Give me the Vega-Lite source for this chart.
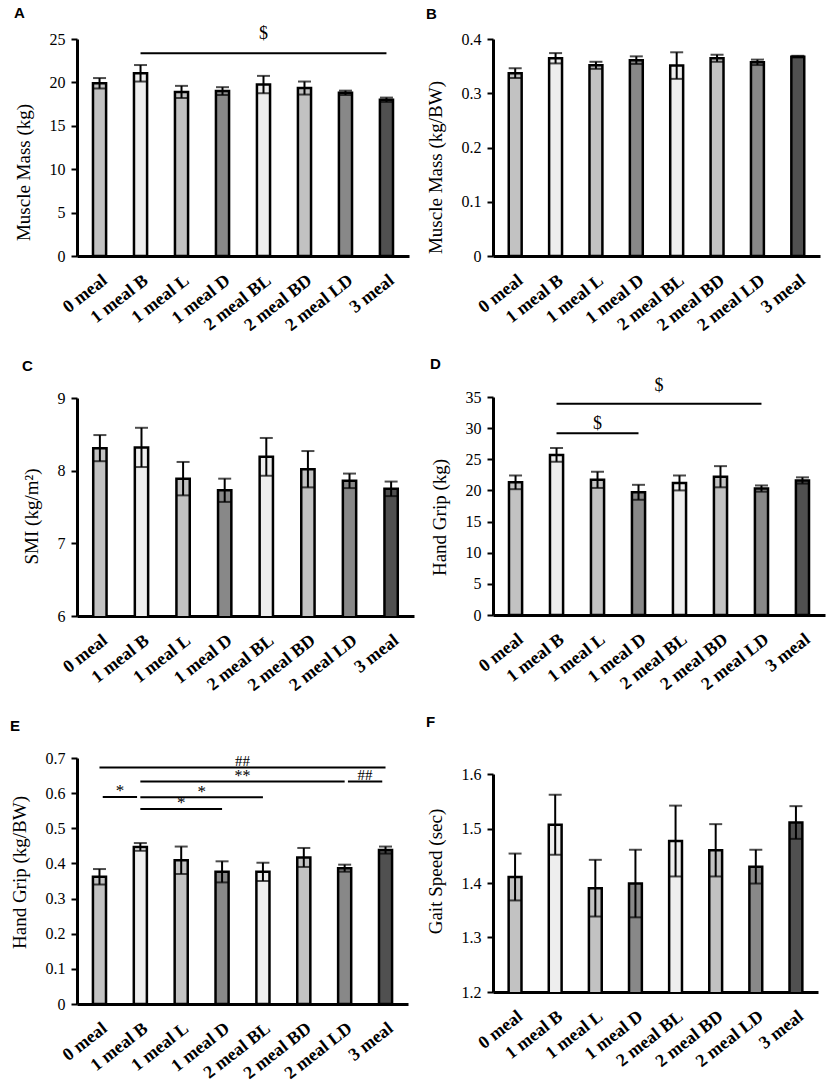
{
  "$schema": "https://vega.github.io/schema/vega-lite/v6.json",
  "background": "white",
  "padding": {"top": 6, "left": 10, "right": 4, "bottom": 4},
  "config": {
    "view": {"stroke": null},
    "font": "Liberation Serif",
    "axis": {
      "domainColor": "black", "domainWidth": 3, "tickColor": "black", "tickWidth": 2, "tickSize": 6,
      "labelColor": "black", "labelFont": "Liberation Serif", "labelFontSize": 16,
      "titleFont": "Liberation Serif", "titleFontSize": 19, "titleFontWeight": "normal", "titleColor": "black",
      "grid": false
    },
    "axisX": {"ticks": false, "labelAngle": -38, "labelFontWeight": "bold", "labelFontSize": 18, "labelAlign": "right", "labelBaseline": "top", "labelPadding": 15, "title": null},
    "axisY": {"labelPadding": 6, "titlePadding": 16},
    "title": {"font": "Liberation Sans", "fontSize": 15, "fontWeight": "bold", "anchor": "start", "frame": "bounds", "color": "black", "offset": 4},
    "concat": {"spacing": 12}
  },
  "datasets": {
    "a": [
      {"meal": "0 meal", "value": 19.9, "err": 0.6},
      {"meal": "1 meal B", "value": 21.05, "err": 0.95},
      {"meal": "1 meal L", "value": 18.9, "err": 0.7},
      {"meal": "1 meal D", "value": 19.0, "err": 0.45},
      {"meal": "2 meal BL", "value": 19.75, "err": 1.0},
      {"meal": "2 meal BD", "value": 19.35, "err": 0.75},
      {"meal": "2 meal LD", "value": 18.8, "err": 0.25},
      {"meal": "3 meal", "value": 18.0, "err": 0.25}
    ],
    "b": [
      {"meal": "0 meal", "value": 0.337, "err": 0.009},
      {"meal": "1 meal B", "value": 0.3645, "err": 0.0095},
      {"meal": "1 meal L", "value": 0.3515, "err": 0.0065},
      {"meal": "1 meal D", "value": 0.361, "err": 0.007},
      {"meal": "2 meal BL", "value": 0.351, "err": 0.0245},
      {"meal": "2 meal BD", "value": 0.3645, "err": 0.0065},
      {"meal": "2 meal LD", "value": 0.357, "err": 0.005},
      {"meal": "3 meal", "value": 0.3675, "err": 0.0015}
    ],
    "c": [
      {"meal": "0 meal", "value": 8.31, "err": 0.18},
      {"meal": "1 meal B", "value": 8.32, "err": 0.27},
      {"meal": "1 meal L", "value": 7.89, "err": 0.23},
      {"meal": "1 meal D", "value": 7.73, "err": 0.16},
      {"meal": "2 meal BL", "value": 8.19, "err": 0.26},
      {"meal": "2 meal BD", "value": 8.02, "err": 0.25},
      {"meal": "2 meal LD", "value": 7.86, "err": 0.1},
      {"meal": "3 meal", "value": 7.75, "err": 0.1}
    ],
    "d": [
      {"meal": "0 meal", "value": 21.3, "err": 1.1},
      {"meal": "1 meal B", "value": 25.7, "err": 1.1},
      {"meal": "1 meal L", "value": 21.7, "err": 1.3},
      {"meal": "1 meal D", "value": 19.7, "err": 1.2},
      {"meal": "2 meal BL", "value": 21.2, "err": 1.2},
      {"meal": "2 meal BD", "value": 22.2, "err": 1.7},
      {"meal": "2 meal LD", "value": 20.3, "err": 0.5},
      {"meal": "3 meal", "value": 21.6, "err": 0.5}
    ],
    "e": [
      {"meal": "0 meal", "value": 0.362, "err": 0.022},
      {"meal": "1 meal B", "value": 0.447, "err": 0.011},
      {"meal": "1 meal L", "value": 0.409, "err": 0.039},
      {"meal": "1 meal D", "value": 0.376, "err": 0.03},
      {"meal": "2 meal BL", "value": 0.376, "err": 0.026},
      {"meal": "2 meal BD", "value": 0.417, "err": 0.027},
      {"meal": "2 meal LD", "value": 0.3865, "err": 0.01},
      {"meal": "3 meal", "value": 0.438, "err": 0.01}
    ],
    "f": [
      {"meal": "0 meal", "value": 1.411, "err": 0.043},
      {"meal": "1 meal B", "value": 1.507, "err": 0.055},
      {"meal": "1 meal L", "value": 1.3905, "err": 0.052},
      {"meal": "1 meal D", "value": 1.399, "err": 0.062},
      {"meal": "2 meal BL", "value": 1.477, "err": 0.065},
      {"meal": "2 meal BD", "value": 1.46, "err": 0.048},
      {"meal": "2 meal LD", "value": 1.43, "err": 0.031},
      {"meal": "3 meal", "value": 1.511, "err": 0.03}
    ]
  },
  "hconcat": [
    {
      "spacing": 24,
      "vconcat": [
        {
          "title": {"text": "A"},
          "width": 332, "height": 217,
          "data": {"name": "a"},
          "encoding": {
            "x": {"field": "meal", "type": "nominal", "axis": {"labelAngle": -38, "labelPadding": 15}, "scale": {"domain": ["0 meal", "1 meal B", "1 meal L", "1 meal D", "2 meal BL", "2 meal BD", "2 meal LD", "3 meal"], "paddingInner": 0, "paddingOuter": 0.05}},
            "y": {"field": "value", "type": "quantitative", "scale": {"domain": [0, 25], "nice": false}, "axis": {"title": "Muscle Mass (kg)", "titleY": 133, "values": [0, 5, 10, 15, 20, 25], "format": "~g"}}
          },
          "layer": [
            {"mark": {"type": "bar", "width": {"band": 0.32}, "stroke": "black", "strokeWidth": 2.5},
             "encoding": {"color": {"field": "meal", "type": "nominal", "legend": null, "scale": {"domain": ["0 meal", "1 meal B", "1 meal L", "1 meal D", "2 meal BL", "2 meal BD", "2 meal LD", "3 meal"], "range": ["#c2c2c2", "#eeeeee", "#c2c2c2", "#888888", "#eeeeee", "#c2c2c2", "#888888", "#505050"]}}}},
            {"mark": {"type": "errorbar", "color": "black", "ticks": {"size": 13, "thickness": 2}, "rule": {"strokeWidth": 2}},
             "encoding": {"yError": {"field": "err"}}},
            {"data": {"values": [{"meal": "1 meal B", "meal2": "3 meal", "value": 23.35}]},
             "mark": {"type": "rule", "color": "black", "strokeWidth": 2},
             "encoding": {"x2": {"field": "meal2"}}},
            {"data": {"values": [{"meal": "2 meal BL", "value": 25.0, "label": "$"}]},
             "mark": {"type": "text", "baseline": "alphabetic", "color": "black"},
             "encoding": {"text": {"field": "label"}, "size": {"field": "label", "type": "ordinal", "legend": null, "scale": {"domain": ["$", "*", "**", "##"], "range": [18, 15, 15, 10]}}}}
          ]
        },
        {
          "title": {"text": "C", "offset": 16},
          "width": 337, "height": 218,
          "data": {"name": "c"},
          "encoding": {
            "x": {"field": "meal", "type": "nominal", "axis": {"labelAngle": -38, "labelPadding": 15}, "scale": {"domain": ["0 meal", "1 meal B", "1 meal L", "1 meal D", "2 meal BL", "2 meal BD", "2 meal LD", "3 meal"], "paddingInner": 0, "paddingOuter": 0.05}},
            "y": {"field": "value", "type": "quantitative", "scale": {"domain": [6, 9], "nice": false, "zero": false}, "axis": {"title": "SMI (kg/m²)", "titleY": 118, "values": [6, 7, 8, 9], "format": "~g"}}
          },
          "layer": [
            {"mark": {"type": "bar", "clip": true, "width": {"band": 0.32}, "stroke": "black", "strokeWidth": 2.5},
             "encoding": {"color": {"field": "meal", "type": "nominal", "legend": null, "scale": {"domain": ["0 meal", "1 meal B", "1 meal L", "1 meal D", "2 meal BL", "2 meal BD", "2 meal LD", "3 meal"], "range": ["#c2c2c2", "#eeeeee", "#c2c2c2", "#888888", "#eeeeee", "#c2c2c2", "#888888", "#505050"]}}}},
            {"mark": {"type": "errorbar", "color": "black", "ticks": {"size": 13, "thickness": 2}, "rule": {"strokeWidth": 2}},
             "encoding": {"yError": {"field": "err"}}}
          ]
        },
        {
          "title": {"text": "E", "offset": 16},
          "width": 331, "height": 246,
          "data": {"name": "e"},
          "encoding": {
            "x": {"field": "meal", "type": "nominal", "axis": {"labelAngle": -38, "labelPadding": 15}, "scale": {"domain": ["0 meal", "1 meal B", "1 meal L", "1 meal D", "2 meal BL", "2 meal BD", "2 meal LD", "3 meal"], "paddingInner": 0, "paddingOuter": 0.05}},
            "y": {"field": "value", "type": "quantitative", "scale": {"domain": [0, 0.7], "nice": false}, "axis": {"title": "Hand Grip (kg/BW)", "titleY": 114, "values": [0, 0.1, 0.2, 0.3, 0.4, 0.5, 0.6, 0.7], "format": "~g"}}
          },
          "layer": [
            {"mark": {"type": "bar", "width": {"band": 0.32}, "stroke": "black", "strokeWidth": 2.5},
             "encoding": {"color": {"field": "meal", "type": "nominal", "legend": null, "scale": {"domain": ["0 meal", "1 meal B", "1 meal L", "1 meal D", "2 meal BL", "2 meal BD", "2 meal LD", "3 meal"], "range": ["#c2c2c2", "#eeeeee", "#c2c2c2", "#888888", "#eeeeee", "#c2c2c2", "#888888", "#505050"]}}}},
            {"mark": {"type": "errorbar", "color": "black", "ticks": {"size": 13, "thickness": 2}, "rule": {"strokeWidth": 2}},
             "encoding": {"yError": {"field": "err"}}},
            {"data": {"values": [
               {"meal": "0 meal", "meal2": "3 meal", "value": 0.673},
               {"meal": "1 meal B", "meal2": "2 meal LD", "value": 0.633},
               {"meal": "1 meal B", "meal2": "2 meal BL", "value": 0.588},
               {"meal": "1 meal B", "meal2": "1 meal D", "value": 0.555}
             ]},
             "mark": {"type": "rule", "color": "black", "strokeWidth": 2},
             "encoding": {"x2": {"field": "meal2"}}},
            {"data": {"values": [
               {"meal": "0 meal", "meal2": "1 meal B", "value": 0.589},
               {"meal": "2 meal LD", "meal2": "3 meal", "value": 0.633}
             ]},
             "mark": {"type": "rule", "color": "black", "strokeWidth": 2},
             "encoding": {
               "x": {"field": "meal", "type": "nominal", "bandPosition": 0.58, "scale": {"domain": ["0 meal", "1 meal B", "1 meal L", "1 meal D", "2 meal BL", "2 meal BD", "2 meal LD", "3 meal"], "paddingInner": 0, "paddingOuter": 0.05}},
               "x2": {"field": "meal2", "bandPosition": 0.42}}},
            {"data": {"values": [{"meal": "1 meal L", "value": 0.557, "label": "*"}]},
             "mark": {"type": "text", "baseline": "alphabetic", "color": "black"},
             "encoding": {"text": {"field": "label"}, "size": {"field": "label", "type": "ordinal", "legend": null, "scale": {"domain": ["$", "*", "**", "##"], "range": [18, 15, 15, 10]}}}},
            {"data": {"values": [
               {"meal": "0 meal", "value": 0.591, "label": "*"},
               {"meal": "1 meal L", "value": 0.590, "label": "*"},
               {"meal": "1 meal D", "value": 0.635, "label": "**"},
               {"meal": "2 meal LD", "value": 0.638, "label": "##"},
               {"meal": "1 meal D", "value": 0.678, "label": "##"}
             ]},
             "mark": {"type": "text", "baseline": "alphabetic", "color": "black"},
             "encoding": {
               "x": {"field": "meal", "type": "nominal", "bandPosition": 1, "scale": {"domain": ["0 meal", "1 meal B", "1 meal L", "1 meal D", "2 meal BL", "2 meal BD", "2 meal LD", "3 meal"], "paddingInner": 0, "paddingOuter": 0.05}},
               "text": {"field": "label"}, "size": {"field": "label", "type": "ordinal", "legend": null, "scale": {"domain": ["$", "*", "**", "##"], "range": [18, 15, 15, 10]}}}}
          ]
        }
      ]
    },
    {
      "spacing": 21,
      "vconcat": [
        {
          "title": {"text": "B", "offset": 9},
          "width": 327, "height": 217,
          "data": {"name": "b"},
          "encoding": {
            "x": {"field": "meal", "type": "nominal", "axis": {"labelAngle": -38, "labelPadding": 15}, "scale": {"domain": ["0 meal", "1 meal B", "1 meal L", "1 meal D", "2 meal BL", "2 meal BD", "2 meal LD", "3 meal"], "paddingInner": 0, "paddingOuter": 0.05}},
            "y": {"field": "value", "type": "quantitative", "scale": {"domain": [0, 0.4], "nice": false}, "axis": {"title": "Muscle Mass (kg/BW)", "titleY": 128, "values": [0, 0.1, 0.2, 0.3, 0.4], "format": "~g"}}
          },
          "layer": [
            {"mark": {"type": "bar", "width": {"band": 0.32}, "stroke": "black", "strokeWidth": 2.5},
             "encoding": {"color": {"field": "meal", "type": "nominal", "legend": null, "scale": {"domain": ["0 meal", "1 meal B", "1 meal L", "1 meal D", "2 meal BL", "2 meal BD", "2 meal LD", "3 meal"], "range": ["#c2c2c2", "#eeeeee", "#c2c2c2", "#888888", "#eeeeee", "#c2c2c2", "#888888", "#505050"]}}}},
            {"mark": {"type": "errorbar", "color": "black", "ticks": {"size": 13, "thickness": 2}, "rule": {"strokeWidth": 2}},
             "encoding": {"yError": {"field": "err"}}}
          ]
        },
        {
          "title": {"text": "D", "offset": 5},
          "width": 332, "height": 218,
          "data": {"name": "d"},
          "encoding": {
            "x": {"field": "meal", "type": "nominal", "axis": {"labelAngle": -38, "labelPadding": 15}, "scale": {"domain": ["0 meal", "1 meal B", "1 meal L", "1 meal D", "2 meal BL", "2 meal BD", "2 meal LD", "3 meal"], "paddingInner": 0, "paddingOuter": 0.05}},
            "y": {"field": "value", "type": "quantitative", "scale": {"domain": [0, 35], "nice": false}, "axis": {"title": "Hand Grip (kg)", "titleY": 120, "values": [0, 5, 10, 15, 20, 25, 30, 35], "format": "~g"}}
          },
          "layer": [
            {"mark": {"type": "bar", "width": {"band": 0.32}, "stroke": "black", "strokeWidth": 2.5},
             "encoding": {"color": {"field": "meal", "type": "nominal", "legend": null, "scale": {"domain": ["0 meal", "1 meal B", "1 meal L", "1 meal D", "2 meal BL", "2 meal BD", "2 meal LD", "3 meal"], "range": ["#c2c2c2", "#eeeeee", "#c2c2c2", "#888888", "#eeeeee", "#c2c2c2", "#888888", "#505050"]}}}},
            {"mark": {"type": "errorbar", "color": "black", "ticks": {"size": 13, "thickness": 2}, "rule": {"strokeWidth": 2}},
             "encoding": {"yError": {"field": "err"}}},
            {"data": {"values": [{"meal": "1 meal B", "meal2": "1 meal D", "value": 29.2}, {"meal": "1 meal B", "meal2": "2 meal LD", "value": 33.9}]},
             "mark": {"type": "rule", "color": "black", "strokeWidth": 2},
             "encoding": {"x2": {"field": "meal2"}}},
            {"data": {"values": [{"meal": "1 meal L", "value": 29.8, "label": "$"}]},
             "mark": {"type": "text", "baseline": "alphabetic", "color": "black"},
             "encoding": {"text": {"field": "label"}, "size": {"field": "label", "type": "ordinal", "legend": null, "scale": {"domain": ["$", "*", "**", "##"], "range": [18, 15, 15, 10]}}}},
            {"data": {"values": [{"meal": "1 meal D", "value": 36.0, "label": "$"}]},
             "mark": {"type": "text", "baseline": "alphabetic", "color": "black"},
             "encoding": {
               "x": {"field": "meal", "type": "nominal", "bandPosition": 1, "scale": {"domain": ["0 meal", "1 meal B", "1 meal L", "1 meal D", "2 meal BL", "2 meal BD", "2 meal LD", "3 meal"], "paddingInner": 0, "paddingOuter": 0.05}},
               "text": {"field": "label"}, "size": {"field": "label", "type": "ordinal", "legend": null, "scale": {"domain": ["$", "*", "**", "##"], "range": [18, 15, 15, 10]}}}}
          ]
        },
        {
          "title": {"text": "F", "offset": 36},
          "width": 325, "height": 218,
          "data": {"name": "f"},
          "encoding": {
            "x": {"field": "meal", "type": "nominal", "axis": {"labelAngle": -38, "labelPadding": 15}, "scale": {"domain": ["0 meal", "1 meal B", "1 meal L", "1 meal D", "2 meal BL", "2 meal BD", "2 meal LD", "3 meal"], "paddingInner": 0, "paddingOuter": 0.05}},
            "y": {"field": "value", "type": "quantitative", "scale": {"domain": [1.2, 1.6], "nice": false, "zero": false}, "axis": {"title": "Gait Speed (sec)", "titleY": 97, "values": [1.2, 1.3, 1.4, 1.5, 1.6], "format": "~g"}}
          },
          "layer": [
            {"mark": {"type": "bar", "clip": true, "width": {"band": 0.32}, "stroke": "black", "strokeWidth": 2.5},
             "encoding": {"color": {"field": "meal", "type": "nominal", "legend": null, "scale": {"domain": ["0 meal", "1 meal B", "1 meal L", "1 meal D", "2 meal BL", "2 meal BD", "2 meal LD", "3 meal"], "range": ["#c2c2c2", "#eeeeee", "#c2c2c2", "#888888", "#eeeeee", "#c2c2c2", "#888888", "#505050"]}}}},
            {"mark": {"type": "errorbar", "color": "black", "ticks": {"size": 13, "thickness": 2}, "rule": {"strokeWidth": 2}},
             "encoding": {"yError": {"field": "err"}}}
          ]
        }
      ]
    }
  ]
}
